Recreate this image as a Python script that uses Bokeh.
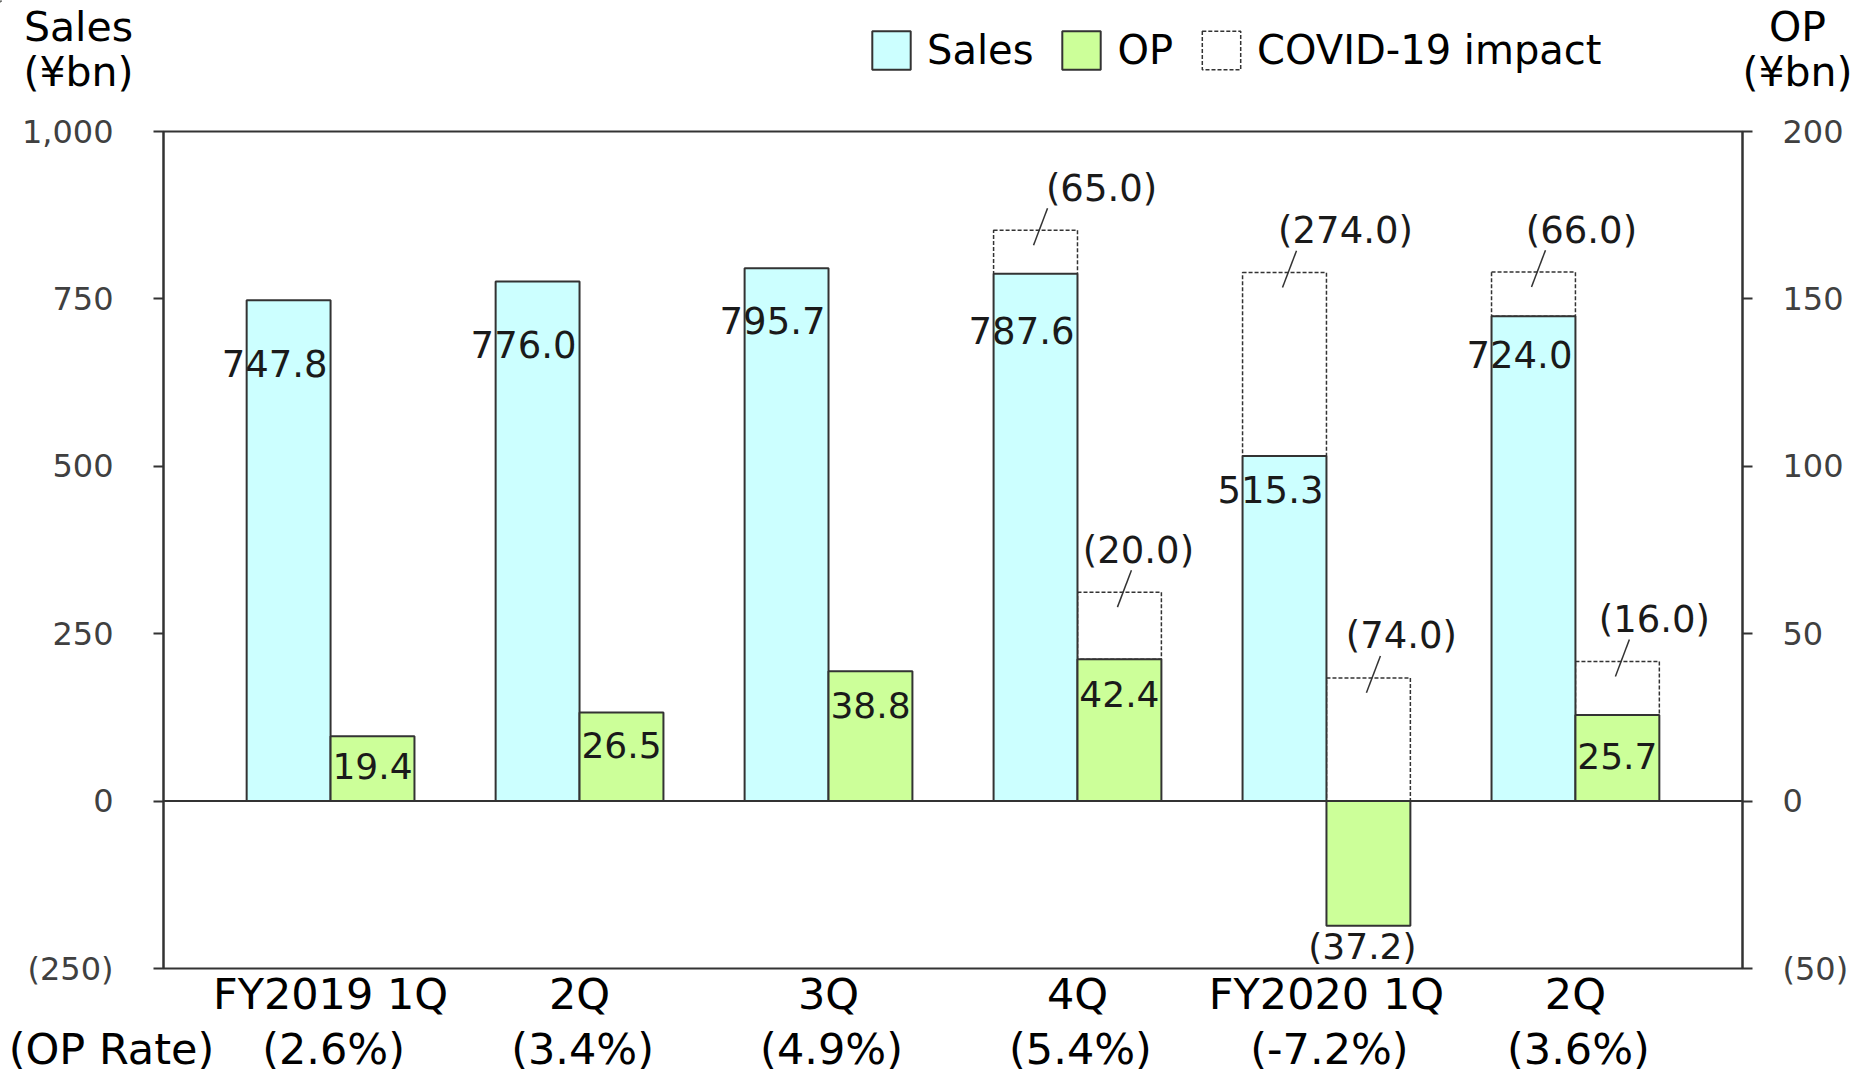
from bokeh.plotting import figure
from bokeh.layouts import column
from bokeh.models import (Range1d, LinearAxis, FixedTicker, ColumnDataSource,
                          LabelSet, Span, Legend, LegendItem)
from bokeh.embed import file_html
from bokeh.resources import INLINE
from bokeh.core.properties import value

# ---------------- data ----------------
categories = ["FY2019 1Q", "2Q", "3Q", "4Q", "FY2020 1Q", "2Q"]
op_rate_labels = ["(2.6%)", "(3.4%)", "(4.9%)", "(5.4%)", "(-7.2%)", "(3.6%)"]
sales = [747.8, 776.0, 795.7, 787.6, 515.3, 724.0]
op = [19.4, 26.5, 38.8, 42.4, -37.2, 25.7]
sales_covid_impact = [None, None, None, 65.0, 274.0, 66.0]
op_covid_impact = [None, None, None, 20.0, 74.0, 16.0]
left_ticks = [-250, 0, 250, 500, 750, 1000]
left_tick_labels = ["(250)", "0", "250", "500", "750", "1,000"]
right_ticks = [-50, 0, 50, 100, 150, 200]
right_tick_labels = ["(50)", "0", "50", "100", "150", "200"]

# ---------------- layout / style ----------------
W = 1854
TOP_H = 111
MAIN_H = 910
BOT_H = 52
BL, BT = 163, 20
FW, FH = 1579, 840
BR = W - BL - FW
BB = MAIN_H - BT - FH
X0, X1 = -0.671, 5.671
Y0, Y1 = -250, 1000
OY0, OY1 = -50, 200
XPX = (X1 - X0) / FW          # data units per px (x)
SPX = (Y1 - Y0) / FH          # data units per px (sales)
OPX = (OY1 - OY0) / FH        # data units per px (op)
FULL_X = (X0 - BL * XPX, X0 + (W - BL) * XPX)
BW = 0.337
FONT = value("DejaVu Sans")
LINE = "#333333"
SALES_FILL = "#CCFFFF"
OP_FILL = "#CCFF99"

sales_label_drop = [63, 63, 52, 57, 33, 38]
op_label_drop = [30, 33, 34, 35, 21, 41]
op_label_dx = [0, 0, 0, 0, -6, 0]
sales_impact_dx = [66, 61, 48]
op_impact_dx = [19, 33, 37]


def fmt(v):
    return f"({abs(v):.1f})" if v < 0 else f"{v:.1f}"


xs = list(range(len(categories)))

# ================= main chart =================
p = figure(width=W, height=MAIN_H, x_range=Range1d(X0, X1), y_range=Range1d(Y0, Y1),
           output_backend="svg", toolbar_location=None, frame_align=False,
           min_border_left=BL, min_border_right=BR, min_border_top=BT,
           min_border_bottom=BB)
p.extra_y_ranges = {"op": Range1d(OY0, OY1)}
p.grid.visible = False
p.outline_line_color = LINE
p.outline_line_width = 2


def style_axis(ax, ticks, labels, standoff):
    ax.ticker = FixedTicker(ticks=ticks)
    ax.major_label_overrides = dict(zip(ticks, labels))
    ax.axis_line_color = LINE
    ax.axis_line_width = 2
    ax.major_tick_line_color = LINE
    ax.major_tick_line_width = 2
    ax.major_tick_out = 10
    ax.major_tick_in = 0
    ax.minor_tick_line_color = None
    ax.major_label_text_font = "DejaVu Sans"
    ax.major_label_text_font_size = "32px"
    ax.major_label_text_color = "#404040"
    ax.major_label_standoff = standoff


style_axis(p.yaxis[0], left_ticks, left_tick_labels, 40)
rax = LinearAxis(y_range_name="op")
style_axis(rax, right_ticks, right_tick_labels, 30)
p.add_layout(rax, "right")

xa = p.xaxis[0]
xa.ticker = FixedTicker(ticks=xs)
xa.major_label_overrides = dict(zip(xs, categories))
xa.axis_line_color = None
xa.major_tick_line_color = None
xa.minor_tick_line_color = None
xa.major_tick_out = 0
xa.major_tick_in = 0
xa.major_label_standoff = 0
xa.major_label_text_font = "DejaVu Sans"
xa.major_label_text_font_size = "43px"
xa.major_label_text_color = "black"

# ---------------- covid impact boxes ----------------
s_idx = [i for i, v in enumerate(sales_covid_impact) if v is not None]
o_idx = [i for i, v in enumerate(op_covid_impact) if v is not None]
s_imp = ColumnDataSource(dict(
    left=[i - BW for i in s_idx], right=[i for i in s_idx],
    bottom=[sales[i] for i in s_idx],
    top=[sales[i] + sales_covid_impact[i] for i in s_idx],
    cx=[i - BW / 2 for i in s_idx],
    lbl=[f"({sales_covid_impact[i]:.1f})" for i in s_idx],
    dx=sales_impact_dx))
o_imp = ColumnDataSource(dict(
    left=[i for i in o_idx], right=[i + BW for i in o_idx],
    bottom=[max(op[i], 0) for i in o_idx],
    top=[op[i] + op_covid_impact[i] for i in o_idx],
    cx=[i + BW / 2 for i in o_idx],
    lbl=[f"({op_covid_impact[i]:.1f})" for i in o_idx],
    dx=op_impact_dx))

p.quad(left="left", right="right", bottom="bottom", top="top", source=s_imp,
       fill_alpha=0, line_color=LINE, line_dash="4 2", line_width=1.5)
p.quad(left="left", right="right", bottom="bottom", top="top", source=o_imp,
       y_range_name="op", fill_alpha=0, line_color=LINE, line_dash="4 2",
       line_width=1.5)

for src_i, upx, rng in ((s_imp, SPX, "default"), (o_imp, OPX, "op")):
    d = src_i.data
    p.segment(x0=[c - 2 * XPX for c in d["cx"]], y0=[t - 15 * upx for t in d["top"]],
              x1=[c + 12 * XPX for c in d["cx"]], y1=[t + 22 * upx for t in d["top"]],
              line_color=LINE, line_width=1.5, y_range_name=rng)
    p.add_layout(LabelSet(x="cx", y="top", text="lbl", source=src_i, x_offset="dx",
                          y_offset=42, y_range_name=rng, text_align="center",
                          text_baseline="middle", text_font=FONT,
                          text_font_size="37px", text_color="#1a1a1a"))

# ---------------- bars ----------------
src = ColumnDataSource(dict(
    x=xs, sx=[i - BW / 2 for i in xs], ox=[i + BW / 2 for i in xs],
    sales=sales, op=op,
    sales_lbl=[fmt(v) for v in sales], op_lbl=[fmt(v) for v in op],
    sdy=[-d for d in sales_label_drop], ody=[-d for d in op_label_drop],
    odx=op_label_dx))

p.vbar(x="sx", top="sales", bottom=0, width=BW, source=src,
       fill_color=SALES_FILL, line_color=LINE, line_width=2)
p.vbar(x="ox", top="op", bottom=0, width=BW, source=src, y_range_name="op",
       fill_color=OP_FILL, line_color=LINE, line_width=2)

p.add_layout(Span(location=0, dimension="width", line_color=LINE, line_width=2))

p.add_layout(LabelSet(x="x", y="sales", text="sales_lbl", source=src, x_offset=-3,
                      y_offset="sdy", text_align="right", text_baseline="middle",
                      text_font=FONT, text_font_size="37px", text_color="#1a1a1a"))
p.add_layout(LabelSet(x="ox", y="op", text="op_lbl", source=src, x_offset="odx",
                      y_offset="ody", y_range_name="op", text_align="center",
                      text_baseline="middle", text_font=FONT, text_font_size="36px",
                      text_color="#1a1a1a"))


def blank(fig):
    fig.grid.visible = False
    fig.outline_line_color = None
    fig.min_border = 0
    return fig


# ================= top strip: axis titles + legend =================
top = blank(figure(width=W, height=TOP_H, x_range=Range1d(*FULL_X),
                   y_range=Range1d(TOP_H, 0), output_backend="svg",
                   toolbar_location=None, x_axis_location=None, y_axis_location=None,
                   frame_align=False))
title_x = [X0 - 85 * XPX, X0 - 85 * XPX, X0 + 1634 * XPX, X0 + 1634 * XPX]
title_y = [26, 71, 26, 71]
top.text(x=title_x, y=title_y, text=["Sales", "(¥bn)", "OP", "(¥bn)"],
         text_align="center", text_baseline="middle", text_font=FONT,
         text_font_size="41px", text_color="black")
# legend-only renderers (their single point lies outside the visible range)
off = FULL_X[0] - 1
lg_s = top.vbar(x=[off], top=[1], bottom=[0], width=0.1, fill_color=SALES_FILL,
                line_color=LINE, line_width=2)
lg_o = top.vbar(x=[off], top=[1], bottom=[0], width=0.1, fill_color=OP_FILL,
                line_color=LINE, line_width=2)
lg_c = top.quad(left=[off], right=[off + 0.1], bottom=[0], top=[1], fill_alpha=0,
                line_color=LINE, line_dash="4 2", line_width=1.5)
legend = Legend(items=[LegendItem(label="Sales", renderers=[lg_s]),
                       LegendItem(label="OP", renderers=[lg_o]),
                       LegendItem(label="COVID-19 impact", renderers=[lg_c])],
                orientation="horizontal", location=(867, TOP_H - 74),
                glyph_width=48, glyph_height=48, label_height=48,
                label_standoff=12, spacing=24, padding=0, margin=0,
                border_line_alpha=0, background_fill_alpha=0,
                label_text_font="DejaVu Sans", label_text_font_size="40px",
                label_text_color="black")
top.add_layout(legend, "center")

# ================= bottom strip: OP rate line =================
bot = blank(figure(width=W, height=BOT_H, x_range=Range1d(*FULL_X),
                   y_range=Range1d(BOT_H, 0), output_backend="svg",
                   toolbar_location=None, x_axis_location=None, y_axis_location=None,
                   frame_align=False))
bot.text(x=[i + 3 * XPX for i in xs], y=[27] * len(xs), text=op_rate_labels,
         text_align="center", text_baseline="middle", text_font=FONT,
         text_font_size="43px", text_color="black")
bot.text(x=[X0 - 52 * XPX], y=[27], text=["(OP Rate)"], text_align="center",
         text_baseline="middle", text_font=FONT, text_font_size="43px",
         text_color="black")

layout = column(top, p, bot, spacing=0)
open("out.html", "w").write(file_html(layout, INLINE))
